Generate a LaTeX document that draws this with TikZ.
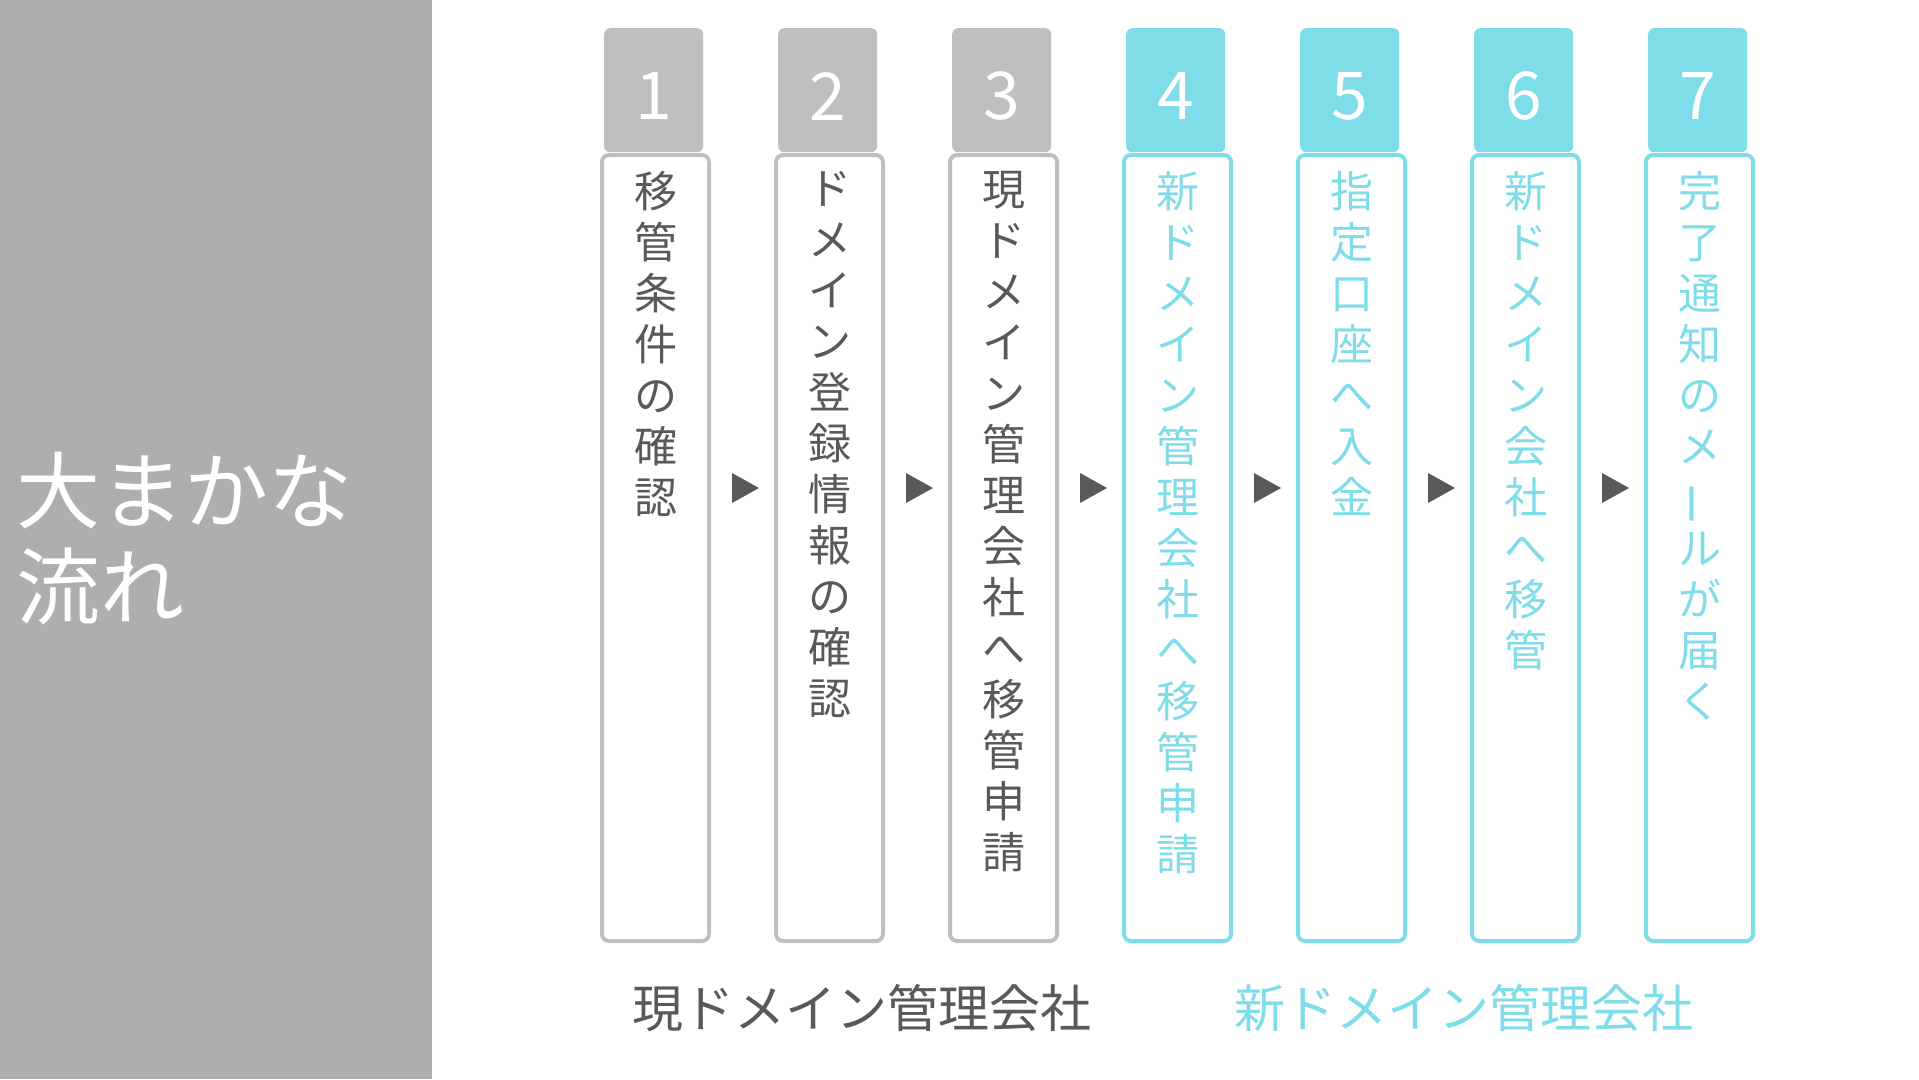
\documentclass[tikz,border=0pt]{standalone}
\usepackage{fontspec}
\setmainfont{Noto Sans CJK JP}
\usepackage{graphicx}
\usetikzlibrary{calc}
\definecolor{pgray}{HTML}{AEAEAE}
\definecolor{tgray}{HTML}{BFBFBF}
\definecolor{txtg}{HTML}{595959}
\definecolor{cy}{HTML}{7FDDEA}
\tikzset{
 tabbox/.style={fill=#1,rounded corners=6pt,minimum width=99pt,minimum height=124pt,anchor=north west,inner sep=0pt},
 colbox/.style={draw=#1,line width=4pt,rounded corners=7pt,fill=white,minimum width=107pt,minimum height=786pt,anchor=north west,inner sep=0pt},
 num/.style={text=white,font=\fontsize{66}{66}\selectfont},
 vtext/.style={text=#1,font=\fontsize{43}{51}\selectfont,align=center,anchor=north,inner sep=0pt},
 foot/.style={font=\fontsize{51}{51}\selectfont,text=#1}
}
\newcommand{\vb}{\rotatebox[origin=c]{90}{ー}}
\begin{document}
\begin{tikzpicture}[x=1pt,y=-1pt]
\useasboundingbox (0,0) rectangle (1919,1079);
\fill[white] (0,0) rectangle (1919,1079);
\fill[pgray] (0,0) rectangle (432,1079);
\node[anchor=north west,text=white,font=\fontsize{84}{96}\selectfont,align=left,inner sep=0pt] (title) at (16,452) {大まかな\\流れ};
\foreach \i/\c/\t in {
 1/tgray/{移\\管\\条\\件\\の\\確\\認},
 2/tgray/{ド\\メ\\イ\\ン\\登\\録\\情\\報\\の\\確\\認},
 3/tgray/{現\\ド\\メ\\イ\\ン\\管\\理\\会\\社\\へ\\移\\管\\申\\請},
 4/cy/{新\\ド\\メ\\イ\\ン\\管\\理\\会\\社\\へ\\移\\管\\申\\請},
 5/cy/{指\\定\\口\\座\\へ\\入\\金},
 6/cy/{新\\ド\\メ\\イ\\ン\\会\\社\\へ\\移\\管},
 7/cy/{完\\了\\通\\知\\の\\メ\\\vb\\ル\\が\\届\\く}}{
 \pgfmathsetmacro{\xx}{604+174*(\i-1)}
 \node[tabbox=\c] (t\i) at (\xx,28) {};
 \node[num] (n\i) at ([yshift=-6pt]t\i.center) {\i};
 \node[colbox=\c] (b\i) at (\xx-4,153) {};
 \node[vtext=\ifnum\i<4 txtg\else cy\fi] (v\i) at ([yshift=-18pt]b\i.north) {\t};
}
\foreach \i in {1,...,6}{
 \pgfmathsetmacro{\mx}{604+174*(\i-1)+140}
 \fill[txtg] (\mx-12,473) -- (\mx-12,503) -- (\mx+15,488) -- cycle;
}
\node[foot=txtg] (f1) at (862,1008) {現ドメイン管理会社};
\node[foot=cy] (f2) at (1464,1008) {新ドメイン管理会社};
\end{tikzpicture}
\end{document}
